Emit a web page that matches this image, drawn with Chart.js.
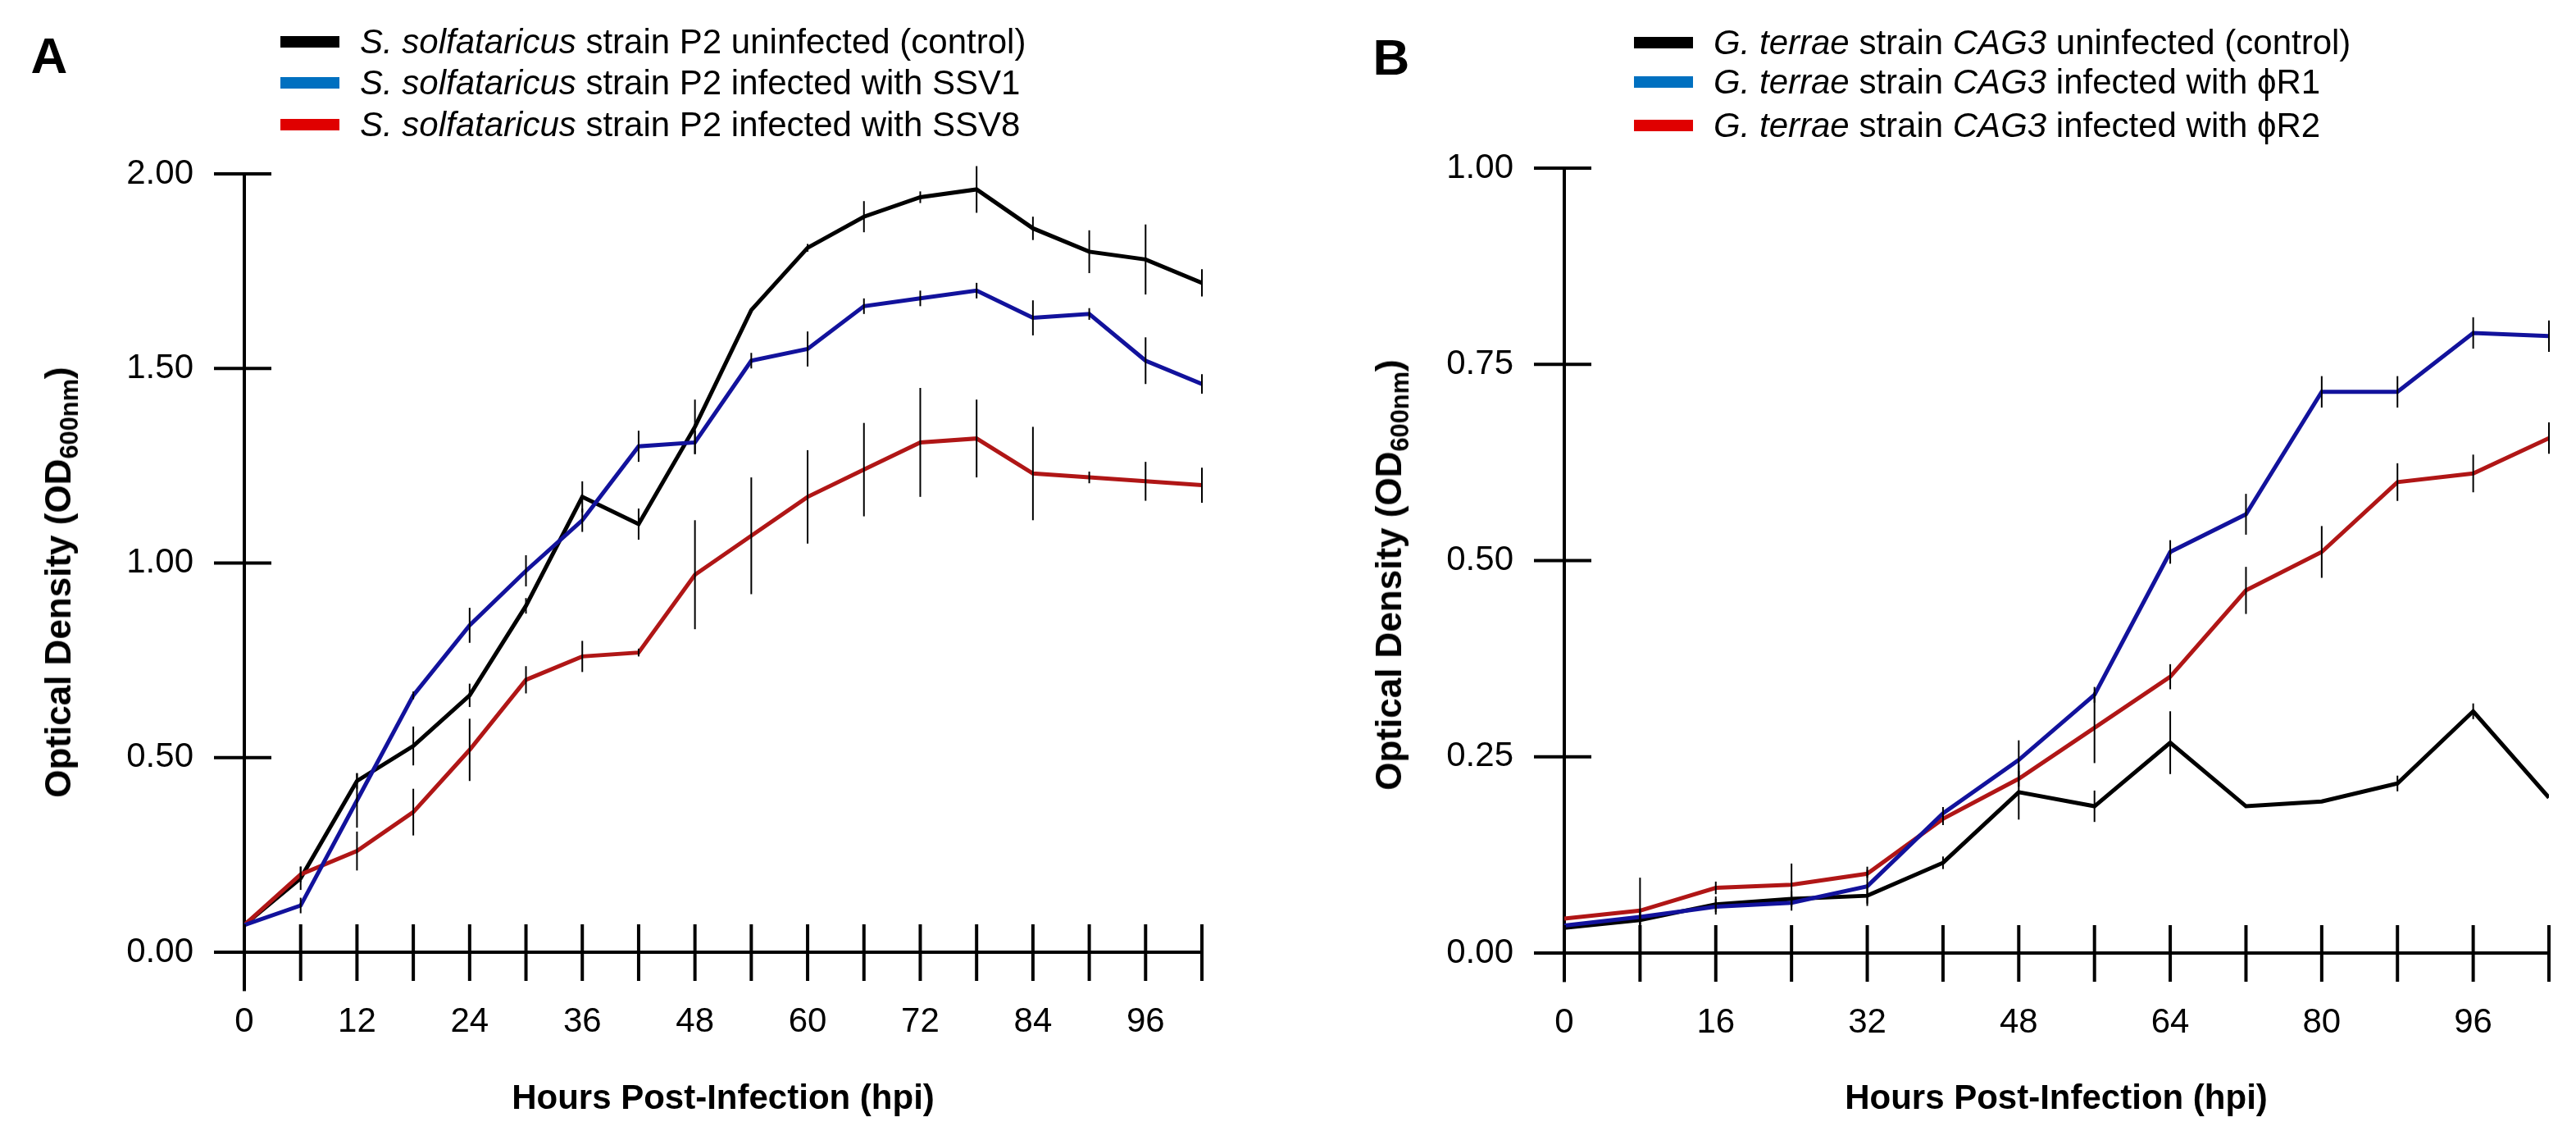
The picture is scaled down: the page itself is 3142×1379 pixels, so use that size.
<!DOCTYPE html>
<html>
<head>
<meta charset="utf-8">
<title>Growth curves</title>
<script src="https://cdn.jsdelivr.net/npm/chart.js@4.4.1/dist/chart.umd.min.js"></script>
<style>
  html, body { margin: 0; padding: 0; background: #fff; }
  body { width: 3142px; height: 1379px; position: relative; overflow: hidden;
         font-family: "Liberation Sans", Arial, Helvetica, sans-serif; color: #000; }
  canvas { position: absolute; top: 0; }
  #chartA { left: 0; }
  #chartB { left: 1571px; }
  .abs { position: absolute; white-space: nowrap; }
  .letter { font-weight: bold; font-size: 62px; line-height: 62px; transform: translate(-50%, -50%); }
  .leg { position: absolute; height: 50px; display: flex; align-items: center; font-size: 42px; white-space: nowrap; }
  .sw { width: 72px; height: 14px; margin-right: 25px; flex: none; }
  .ytitle { font-weight: bold; font-size: 44px; line-height: 50px; transform: translate(-50%, -50%) rotate(-90deg); }
  .xtitle { font-weight: bold; font-size: 42px; line-height: 50px; transform: translate(-50%, -50%); }
  sub { font-size: 0.7em; vertical-align: -0.28em; line-height: 0; }
</style>
</head>
<body>
<canvas id="chartA" width="1571" height="1379"></canvas>
<canvas id="chartB" width="1571" height="1379"></canvas>

<div class="abs letter" style="left:60px; top:68px;">A</div>
<div class="leg" style="left:342px; top:26px;"><span class="sw" style="background:#000"></span><span><i>S. solfataricus</i> strain P2 uninfected (control)</span></div>
<div class="leg" style="left:342px; top:76px;"><span class="sw" style="background:#0070c0"></span><span><i>S. solfataricus</i> strain P2 infected with SSV1</span></div>
<div class="leg" style="left:342px; top:127px;"><span class="sw" style="background:#e00000"></span><span><i>S. solfataricus</i> strain P2 infected with SSV8</span></div>
<div class="abs ytitle" style="left:71px; top:710px;">Optical Density (OD<sub>600nm</sub>)</div>
<div class="abs xtitle" style="left:882px; top:1338px;">Hours Post-Infection (hpi)</div>

<div class="abs letter" style="left:1697px; top:70px;">B</div>
<div class="leg" style="left:1993px; top:27px;"><span class="sw" style="background:#000"></span><span><i>G. terrae</i> strain <i>CAG3</i> uninfected (control)</span></div>
<div class="leg" style="left:1993px; top:75px;"><span class="sw" style="background:#0070c0"></span><span><i>G. terrae</i> strain <i>CAG3</i> infected with ϕR1</span></div>
<div class="leg" style="left:1993px; top:128px;"><span class="sw" style="background:#e00000"></span><span><i>G. terrae</i> strain <i>CAG3</i> infected with ϕR2</span></div>
<div class="abs ytitle" style="left:1694px; top:701px;">Optical Density (OD<sub>600nm</sub>)</div>
<div class="abs xtitle" style="left:2508px; top:1338px;">Hours Post-Infection (hpi)</div>

<script>
// ---- panel A: S. solfataricus ----
const hoursA = [0, 6, 12, 18, 24, 30, 36, 42, 48, 54, 60, 66, 72, 78, 84, 90, 96, 102];
const ctrlA = [0.07, 0.19, 0.44, 0.53, 0.66, 0.89, 1.17, 1.10, 1.35, 1.65, 1.81, 1.89, 1.94, 1.96, 1.86, 1.80, 1.78, 1.72];
const ssv1A = [0.07, 0.12, 0.39, 0.66, 0.84, 0.98, 1.11, 1.30, 1.31, 1.52, 1.55, 1.66, 1.68, 1.70, 1.63, 1.64, 1.52, 1.46];
const ssv8A = [0.07, 0.20, 0.26, 0.36, 0.52, 0.70, 0.76, 0.77, 0.97, 1.07, 1.17, 1.24, 1.31, 1.32, 1.23, 1.22, 1.21, 1.20];
const errCtrlA = [0, 0.03, 0.02, 0.05, 0.03, 0.02, 0.04, 0.04, 0.07, 0, 0.01, 0.04, 0.015, 0.06, 0.03, 0.055, 0.09, 0.035];
const errSsv1A = [0, 0.02, 0.07, 0.01, 0.045, 0.04, 0.03, 0.04, 0.03, 0.02, 0.045, 0.02, 0.02, 0.02, 0.045, 0.015, 0.06, 0.025];
const errSsv8A = [0, 0.02, 0.05, 0.06, 0.08, 0.035, 0.04, 0.01, 0.14, 0.15, 0.12, 0.12, 0.14, 0.10, 0.12, 0.015, 0.05, 0.045];
const xLabelsA = [0, 12, 24, 36, 48, 60, 72, 84, 96];
const yTicksA = [0, 0.5, 1.0, 1.5, 2.0];

// ---- panel B: G. terrae ----
const hoursB = [0, 8, 16, 24, 32, 40, 48, 56, 64, 72, 80, 88, 96, 104];
const ctrlB = [0.032, 0.042, 0.062, 0.069, 0.073, 0.115, 0.205, 0.187, 0.268, 0.187, 0.193, 0.216, 0.308, 0.198];
const r1B = [0.035, 0.046, 0.059, 0.064, 0.085, 0.178, 0.246, 0.329, 0.511, 0.559, 0.715, 0.715, 0.790, 0.786];
const r2B = [0.044, 0.054, 0.083, 0.087, 0.101, 0.171, 0.222, 0.287, 0.352, 0.462, 0.511, 0.600, 0.611, 0.656];
const errCtrlB = [0, 0.01, 0.01, 0.01, 0.01, 0.008, 0.035, 0.02, 0.04, 0, 0, 0.01, 0.01, 0];
const errR1B = [0, 0.01, 0.01, 0.01, 0.025, 0.008, 0.025, 0.01, 0.015, 0.026, 0.02, 0.02, 0.02, 0.02];
const errR2B = [0, 0.042, 0.008, 0.027, 0.005, 0.008, 0.01, 0.045, 0.016, 0.03, 0.033, 0.024, 0.024, 0.02];
const xLabelsB = [0, 16, 32, 48, 64, 80, 96];
const yTicksB = [0, 0.25, 0.5, 0.75, 1.0];

const FONT = '"Liberation Sans", Arial, Helvetica, sans-serif';
const NAVY = "#12129c";
const DARKRED = "#b01616";

// error bars + ticks that cross the axis lines
const crossAxes = {
  id: "crossAxes",
  afterDatasetsDraw(chart) {
    const { ctx } = chart;
    const xs = chart.scales.x, ys = chart.scales.y;
    ctx.save();
    ctx.strokeStyle = "#000";
    ctx.lineWidth = 2;
    chart.data.datasets.forEach((ds) => {
      ds.data.forEach((p, i) => {
        const e = ds.errors[i];
        if (!e) return;
        const px = xs.getPixelForValue(p.x);
        ctx.beginPath();
        ctx.moveTo(px, ys.getPixelForValue(p.y - e));
        ctx.lineTo(px, ys.getPixelForValue(p.y + e));
        ctx.stroke();
      });
    });
    ctx.restore();
  },
  afterDraw(chart, args, opts) {
    const { ctx } = chart;
    const xs = chart.scales.x, ys = chart.scales.y;
    const x0 = chart.chartArea.left;
    const y0 = ys.getPixelForValue(0);
    ctx.save();
    ctx.strokeStyle = "#000";
    ctx.lineWidth = 4;
    // y axis runs a little below zero
    ctx.beginPath();
    ctx.moveTo(x0, y0);
    ctx.lineTo(x0, ys.getPixelForValue(opts.yExt));
    ctx.stroke();
    opts.xMarks.forEach((h) => {
      const px = xs.getPixelForValue(h);
      ctx.beginPath();
      ctx.moveTo(px, y0 - 34);
      ctx.lineTo(px, y0 + 35);
      ctx.stroke();
    });
    opts.yMarks.forEach((v) => {
      const py = ys.getPixelForValue(v);
      ctx.beginPath();
      ctx.moveTo(x0 - 37, py);
      ctx.lineTo(x0 + 33, py);
      ctx.stroke();
    });
    ctx.restore();
  }
};

function series(hours, vals, errs, color, order) {
  return {
    data: hours.map((h, i) => ({ x: h, y: vals[i] })),
    errors: errs,
    borderColor: color,
    borderWidth: 5,
    borderJoinStyle: "miter",
    pointRadius: 0,
    tension: 0,
    fill: false,
    order: order
  };
}

function makeChart(id, p) {
  return new Chart(document.getElementById(id), {
    type: "line",
    data: {
      datasets: [
        series(p.hours, p.blue, p.errBlue, NAVY, 0),
        series(p.hours, p.red, p.errRed, DARKRED, 1),
        series(p.hours, p.black, p.errBlack, "#000", 2)
      ]
    },
    options: {
      responsive: false,
      devicePixelRatio: 1,
      animation: false,
      layout: { padding: { top: p.top, right: p.right, bottom: 0, left: 0 } },
      plugins: {
        legend: { display: false },
        tooltip: { enabled: false },
        crossAxes: { xMarks: p.hours, yMarks: p.yTicks, yExt: p.yExt }
      },
      scales: {
        x: {
          type: "linear",
          min: 0,
          max: p.xMax,
          afterBuildTicks: (s) => { s.ticks = p.xLabels.map((v) => ({ value: v })); },
          afterFit: (s) => { s.height = p.xHeight; },
          grid: { display: false, drawTicks: false },
          border: { display: true, color: "#000", width: 4 },
          ticks: { color: "#000", font: { family: FONT, size: 42 }, padding: 60,
                   maxRotation: 0, autoSkip: false, callback: (v) => String(v) }
        },
        y: {
          min: 0,
          max: p.yMax,
          afterBuildTicks: (s) => { s.ticks = p.yTicks.map((v) => ({ value: v })); },
          afterFit: (s) => { s.width = p.yWidth; },
          grid: { display: false, drawTicks: false },
          border: { display: true, color: "#000", width: 4 },
          ticks: { color: "#000", font: { family: FONT, size: 42 }, padding: 62,
                   callback: (v) => Number(v).toFixed(2) }
        }
      }
    },
    plugins: [crossAxes]
  });
}

makeChart("chartA", {
  hours: hoursA, black: ctrlA, blue: ssv1A, red: ssv8A,
  errBlack: errCtrlA, errBlue: errSsv1A, errRed: errSsv8A,
  xLabels: xLabelsA, yTicks: yTicksA, xMax: 102, yMax: 2, yExt: -0.1,
  top: 212, right: 105, yWidth: 298, xHeight: 218
});

makeChart("chartB", {
  hours: hoursB, black: ctrlB, blue: r1B, red: r2B,
  errBlack: errCtrlB, errBlue: errR1B, errRed: errR2B,
  xLabels: xLabelsB, yTicks: yTicksB, xMax: 104, yMax: 1, yExt: -0.037,
  top: 205, right: 33, yWidth: 337, xHeight: 217
});
</script>
</body>
</html>
